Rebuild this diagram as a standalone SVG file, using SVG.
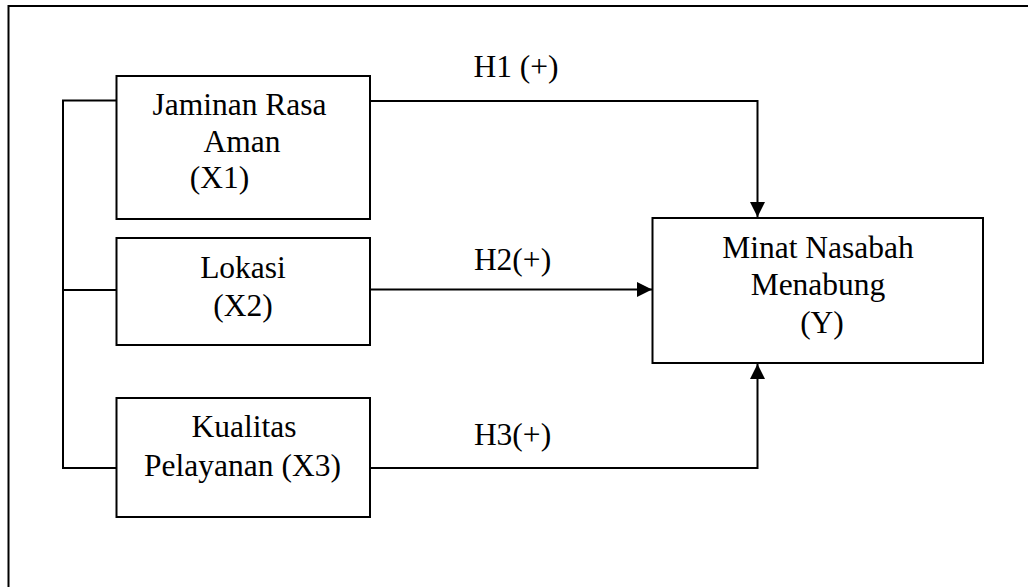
<svg xmlns="http://www.w3.org/2000/svg" width="1028" height="587" viewBox="0 0 1028 587">
<style>
.box{fill:#fff;stroke:#000;stroke-width:2}
.ln{fill:none;stroke:#000;stroke-width:2}
text{font-family:"Liberation Serif","Times New Roman",serif;font-size:31.5px;fill:#000;text-anchor:middle}
</style>
<defs>
<marker id="ah" viewBox="0 0 10 10" refX="10" refY="5" markerWidth="15" markerHeight="16" markerUnits="userSpaceOnUse" orient="auto">
<path d="M0,0 L10,5 L0,10 Z" fill="#000"/>
</marker>
</defs>
<rect width="1028" height="587" fill="#fff"/>
<g id="frame">
<path class="ln" d="M8.5,587 V6 H1028"/>
</g>
<g id="connectors">
<path class="ln" d="M117,100.5 H63 V468 H117"/>
<path class="ln" d="M63,290 H117"/>
<path class="ln" d="M370,101 H757.5 V217" marker-end="url(#ah)"/>
<path class="ln" d="M370,289.5 H652" marker-end="url(#ah)"/>
<path class="ln" d="M370,468 H757.5 V364" marker-end="url(#ah)"/>
<text x="516" y="77">H1 (+)</text>
<text x="512.5" y="270">H2(+)</text>
<text x="512.5" y="445">H3(+)</text>
</g>
<g id="x1">
<rect class="box" x="116.5" y="76" width="253.5" height="143"/>
<text x="239.5" y="115">Jaminan Rasa</text>
<text x="242" y="152">Aman</text>
<text x="219.5" y="188">(X1)</text>
</g>
<g id="x2">
<rect class="box" x="116.5" y="238" width="253.5" height="107"/>
<text x="243" y="278">Lokasi</text>
<text x="243" y="316">(X2)</text>
</g>
<g id="x3">
<rect class="box" x="116.5" y="398" width="253.5" height="119"/>
<text x="244" y="437">Kualitas</text>
<text x="242.5" y="476">Pelayanan (X3)</text>
</g>
<g id="y">
<rect class="box" x="652.5" y="218" width="330.5" height="145"/>
<text x="818" y="258">Minat Nasabah</text>
<text x="818" y="295">Menabung</text>
<text x="822" y="333">(Y)</text>
</g>
</svg>
